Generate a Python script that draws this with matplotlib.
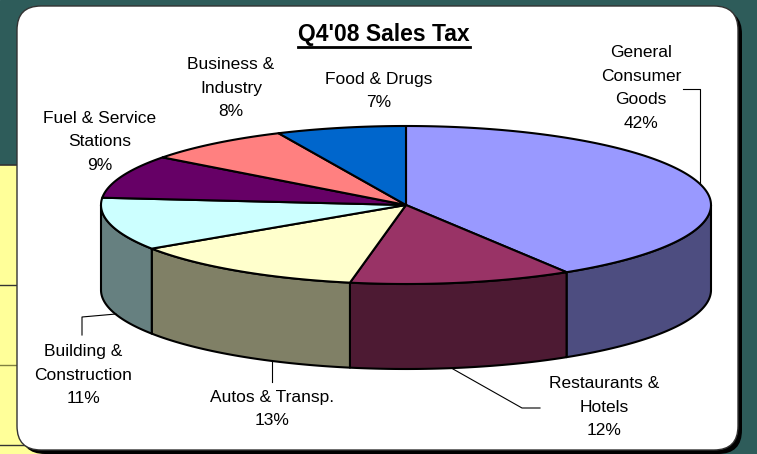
import matplotlib.pyplot as plt
import numpy as np
from matplotlib.patches import Polygon, FancyBboxPatch, Rectangle

plt.rcParams['font.family'] = ['Liberation Sans', 'DejaVu Sans']

title = "Q4'08 Sales Tax"
labels = ["General\nConsumer\nGoods", "Restaurants &\nHotels", "Autos & Transp.",
          "Building &\nConstruction", "Fuel & Service\nStations", "Business &\nIndustry",
          "Food & Drugs"]
shares = [42, 12, 13, 11, 9, 8, 7]
top_colors = ['#9999FF', '#993366', '#FFFFCC', '#CCFFFF', '#660066', '#FF8080', '#0066CC']
side_colors = ['#4D4D80', '#4D1A33', '#808066', '#668080', '#330033', '#804040', '#003366']

# label centres and leader lines, in pixel coordinates
label_pos = [(641, 88), (604, 407), (272, 409), (83, 375), (100, 142), (231, 88), (379, 91)]
leaders = [
    [(683, 89), (700, 89), (700, 183)],
    [(453, 369), (522, 408), (540, 408)],
    [(272, 362), (272, 382)],
    [(82, 335), (82, 317), (116, 314)],
]

fig = plt.figure(figsize=(7.57, 4.54), dpi=100)
ax = fig.add_axes([0, 0, 1, 1])
ax.set_xlim(0, 757)
ax.set_ylim(454, 0)
ax.axis('off')

# slide background
ax.add_patch(Rectangle((0, 0), 757, 454, color='#2E5C5A', zorder=0))
ax.add_patch(Rectangle((0, 165), 60, 289, facecolor='#FFFF99', edgecolor='none', zorder=0))
ax.plot([0, 60], [165, 165], color='#333333', lw=1.2, zorder=0)
ax.plot([0, 60], [285, 285], color='#333333', lw=1, zorder=0)
ax.plot([0, 60], [365, 365], color='#808040', lw=1, zorder=0)
ax.plot([0, 60], [445, 445], color='#333333', lw=1, zorder=0)

# white rounded panel with shadow
ax.add_patch(FancyBboxPatch((21, 10), 721, 444, boxstyle="round,pad=0,rounding_size=24",
                            facecolor='black', edgecolor='none', zorder=1))
ax.add_patch(FancyBboxPatch((17, 6), 721, 444, boxstyle="round,pad=0,rounding_size=24",
                            facecolor='white', edgecolor='#333333', lw=1, zorder=1))

# 3D pie geometry
cx, cy, a, b, depth = 406, 205, 305, 79, 85
frac = np.array(shares) / sum(shares)
edges = 90 - 360 * np.concatenate([[0], np.cumsum(frac)])


def ell(t, dy=0):
    r = np.radians(t)
    return cx + a * np.cos(r), cy - b * np.sin(r) + dy


for i in range(len(shares)):
    t1, t2 = edges[i], edges[i + 1]
    lo, hi = max(t2, -180), min(t1, 0)
    if lo < hi:
        t = np.linspace(hi, lo, 150)
        xt, yt = ell(t)
        xb, yb = ell(t[::-1], depth)
        pts = list(zip(xt, yt)) + list(zip(xb, yb))
        ax.add_patch(Polygon(pts, closed=True, facecolor=side_colors[i], edgecolor='black',
                             lw=1.5, joinstyle='round', zorder=2))

for i in range(len(shares)):
    t = np.linspace(edges[i], edges[i + 1], 150)
    xs, ys = ell(t)
    pts = [(cx, cy)] + list(zip(xs, ys))
    ax.add_patch(Polygon(pts, closed=True, facecolor=top_colors[i], edgecolor='black',
                         lw=1.5, joinstyle='round', zorder=3))

# labels
for (x, y), lab, s in zip(label_pos, labels, shares):
    ax.text(x, y, f"{lab}\n{s}%", ha='center', va='center', fontsize=12.5,
            linespacing=1.7, color='black', zorder=5)

for pts in leaders:
    xs, ys = zip(*pts)
    ax.plot(xs, ys, color='black', lw=0.8, zorder=4)

# title with underline
tt = ax.text(384, 35, title, ha='center', va='center', fontsize=16.5,
             fontweight='bold', zorder=5)
fig.canvas.draw()
bb = tt.get_window_extent().transformed(ax.transData.inverted())
ax.plot([bb.x0, bb.x1], [bb.y0 + 1, bb.y0 + 1], color='black', lw=2, zorder=5)

fig.savefig('out.png', dpi=100)
